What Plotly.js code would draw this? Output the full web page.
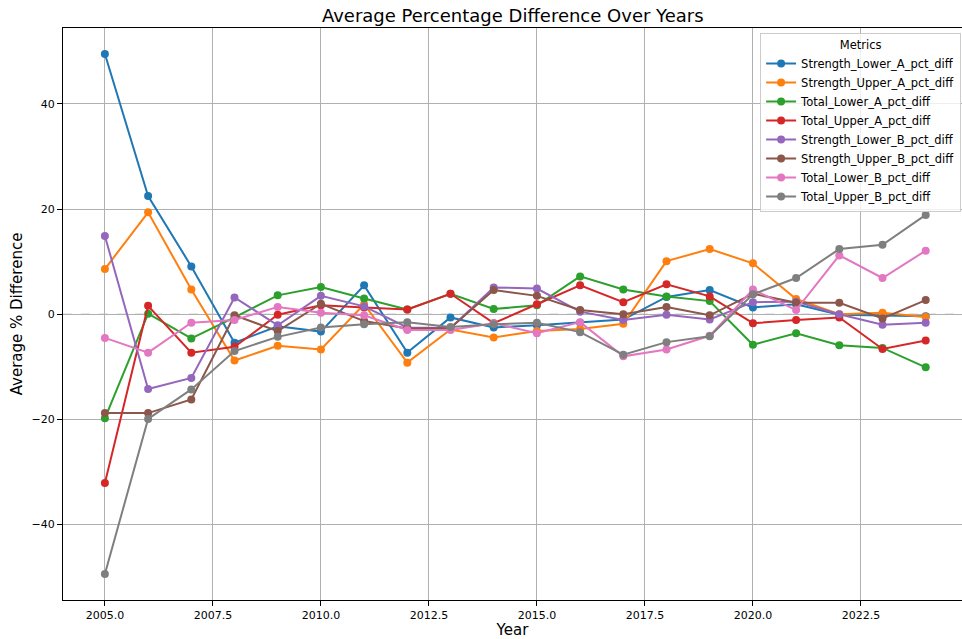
<!DOCTYPE html>
<html>
<head>
<meta charset="utf-8">
<script src="https://cdn.plot.ly/plotly-3.0.1.min.js"></script>
<style>
  html, body { margin: 0; padding: 0; background: #fff; }
  #chart { width: 962px; height: 639px; }
</style>
</head>
<body>
<div id="chart"></div>
<script>
const years = [2005, 2006, 2007, 2008, 2009, 2010, 2011, 2012, 2013, 2014,
               2015, 2016, 2017, 2018, 2019, 2020, 2021, 2022, 2023, 2024];

const strengthLowerA = [49.5, 22.5, 9.1, -5.4, -2.3, -3.3, 5.5, -7.3, -0.6, -2.5,
                        -2.1, -1.6, -1.0, 3.3, 4.6, 1.3, 1.9, -0.1, -0.2, -0.4];
const strengthUpperA = [8.6, 19.4, 4.7, -8.8, -6.0, -6.7, 1.9, -9.2, -2.9, -4.4,
                        -3.2, -2.8, -1.8, 10.1, 12.4, 9.7, 2.9, 0.0, 0.3, -0.5];
const totalLowerA = [-19.8, 0.1, -4.6, -0.6, 3.6, 5.2, 3.0, 0.9, 3.9, 1.0,
                     1.7, 7.2, 4.7, 3.4, 2.5, -5.8, -3.6, -5.9, -6.4, -10.1];
const totalUpperA = [-32.1, 1.6, -7.3, -6.2, -0.1, 1.7, 1.3, 0.9, 3.9, -1.7,
                     1.9, 5.5, 2.3, 5.7, 3.4, -1.7, -1.1, -0.6, -6.6, -5.0];
const strengthLowerB = [14.9, -14.2, -12.1, 3.2, -2.1, 3.5, 1.5, -2.5, -2.6, 5.1,
                        4.9, 0.5, -1.1, -0.1, -1.0, 2.3, 2.4, 0.0, -2.0, -1.6];
const strengthUpperB = [-18.8, -18.8, -16.2, -0.2, -3.2, 2.0, -1.3, -2.7, -2.6, 4.6,
                        3.5, 0.8, 0.0, 1.4, -0.2, 3.9, 2.2, 2.2, -0.8, 2.7];
const totalLowerB = [-4.5, -7.3, -1.6, -1.1, 1.4, 0.3, -0.2, -3.0, -3.0, -1.7,
                     -3.6, -1.5, -8.0, -6.7, -4.1, 4.7, 0.8, 11.2, 6.9, 12.1];
const totalUpperB = [-49.4, -19.9, -14.3, -7.0, -4.3, -2.5, -1.9, -1.5, -2.4, -1.9,
                     -1.6, -3.4, -7.7, -5.3, -4.2, 3.8, 6.9, 12.4, 13.2, 18.9];

const seriesNames = ["Strength_Lower_A_pct_diff", "Strength_Upper_A_pct_diff",
                     "Total_Lower_A_pct_diff", "Total_Upper_A_pct_diff",
                     "Strength_Lower_B_pct_diff", "Strength_Upper_B_pct_diff",
                     "Total_Lower_B_pct_diff", "Total_Upper_B_pct_diff"];
const seriesValues = [strengthLowerA, strengthUpperA, totalLowerA, totalUpperA,
                      strengthLowerB, strengthUpperB, totalLowerB, totalUpperB];
const colors = ["#1f77b4", "#ff7f0e", "#2ca02c", "#d62728",
                "#9467bd", "#8c564b", "#e377c2", "#7f7f7f"];

const font = "DejaVu Sans, Liberation Sans, sans-serif";

const traces = seriesNames.map((name, i) => ({
  type: "scatter",
  mode: "lines+markers",
  name: name,
  x: years,
  y: seriesValues[i],
  line: { color: colors[i], width: 2 },
  marker: { color: colors[i], size: 8, symbol: "circle" }
}));

const layout = {
  width: 962,
  height: 639,
  margin: { l: 63, r: 0, t: 28, b: 39, pad: 0 },
  paper_bgcolor: "#ffffff",
  plot_bgcolor: "#ffffff",
  font: { family: font, size: 11, color: "#000" },
  title: {
    text: "Average Percentage Difference Over Years",
    font: { family: font, size: 18, color: "#000" },
    x: 0.533, xanchor: "center", y: 0.975, yanchor: "middle"
  },
  xaxis: {
    title: { text: "Year", font: { family: font, size: 15, color: "#000" }, standoff: 5 },
    range: [2004.03, 2024.84],
    tick0: 2005, dtick: 2.5,
    tickformat: ".1f",
    ticks: "outside", ticklen: 5, tickcolor: "#000", tickwidth: 1,
    showgrid: true, gridcolor: "#b0b0b0", gridwidth: 1,
    zeroline: false,
    showline: true, linecolor: "#000", linewidth: 1, mirror: true,
    tickfont: { family: font, size: 11, color: "#000" }
  },
  yaxis: {
    title: { text: "Average % Difference", font: { family: font, size: 15, color: "#000" }, standoff: 5 },
    range: [-54.35, 54.45],
    tick0: 0, dtick: 20,
    ticks: "outside", ticklen: 5, tickcolor: "#000", tickwidth: 1,
    showgrid: true, gridcolor: "#b0b0b0", gridwidth: 1,
    zeroline: false,
    showline: true, linecolor: "#000", linewidth: 1, mirror: false,
    tickfont: { family: font, size: 11, color: "#000" }
  },
  shapes: [{
    type: "line", xref: "paper", yref: "y", x0: 0, x1: 1, y0: 0, y1: 0,
    line: { color: "rgba(128,128,128,0.7)", width: 1.2, dash: "dash" },
    layer: "between"
  }],
  legend: {
    title: { text: "Metrics", side: "top center", font: { family: font, size: 11.5, color: "#000" } },
    x: 0.999, xanchor: "right", y: 0.991, yanchor: "top",
    bgcolor: "rgba(255,255,255,0.8)",
    bordercolor: "#cccccc", borderwidth: 1,
    font: { family: font, size: 11.5, color: "#000" },
    tracegroupgap: 0
  },
  showlegend: true
};

Plotly.newPlot("chart", traces, layout, { staticPlot: true, displayModeBar: false });
</script>
</body>
</html>
